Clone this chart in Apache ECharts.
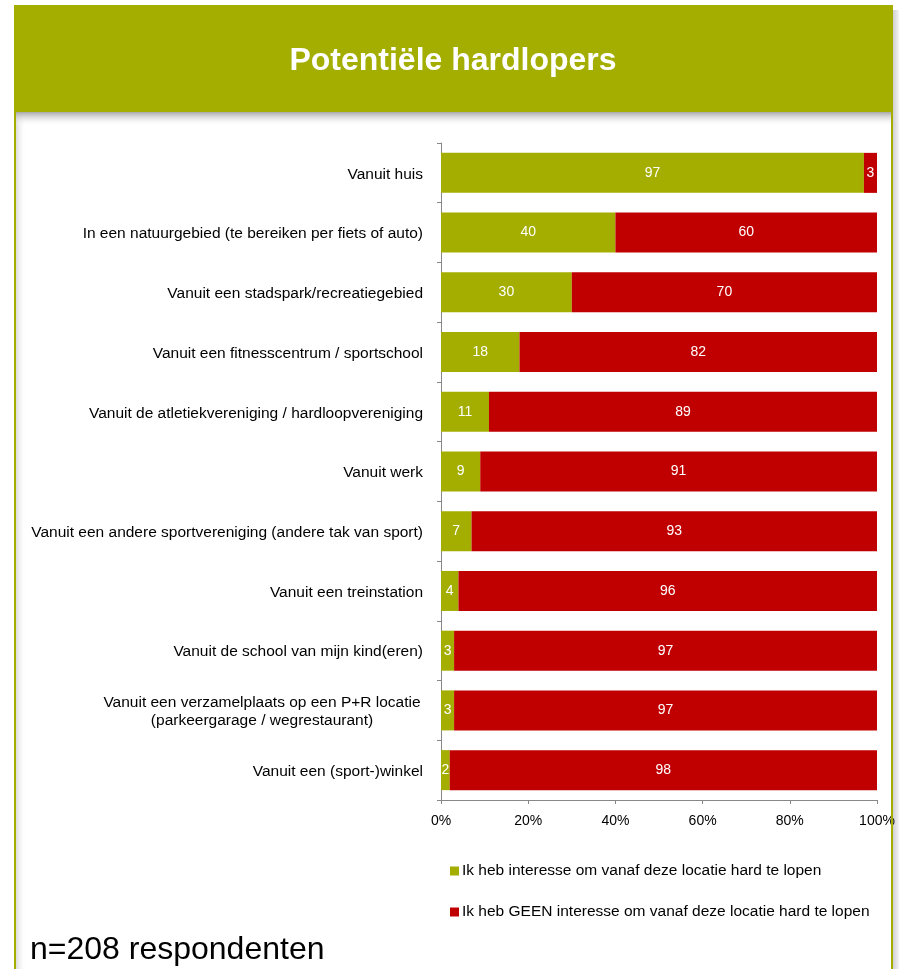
<!DOCTYPE html>
<html>
<head>
<meta charset="utf-8">
<script src="https://cdn.jsdelivr.net/npm/echarts@6/dist/echarts.min.js"></script>
<style>
  html, body { margin: 0; padding: 0; background: #ffffff; }
  #chart { width: 899px; height: 969px; }
</style>
</head>
<body>
<div id="chart"></div>
<script>
// Locations asked about, top to bottom
const categories = [
  'Vanuit huis',
  'In een natuurgebied (te bereiken per fiets of auto)',
  'Vanuit een stadspark/recreatiegebied',
  'Vanuit een fitnesscentrum / sportschool',
  'Vanuit de atletiekvereniging / hardloopvereniging',
  'Vanuit werk',
  'Vanuit een andere sportvereniging (andere tak van sport)',
  'Vanuit een treinstation',
  'Vanuit de school van mijn kind(eren)',
  'Vanuit een verzamelplaats op een P+R locatie\n(parkeergarage / wegrestaurant)',
  'Vanuit een (sport-)winkel'
];

// Share of respondents (%) per answer
const interested = [97, 40, 30, 18, 11, 9, 7, 4, 3, 3, 2];
const notInterested = [3, 60, 70, 82, 89, 91, 93, 96, 97, 97, 98];

const seriesNames = [
  'Ik heb interesse om vanaf deze locatie hard te lopen',
  'Ik heb GEEN interesse om vanaf deze locatie hard te lopen'
];

const xTicks = [0, 20, 40, 60, 80, 100];

const GREEN = '#a3ae00';
const RED = '#c00000';
const FONT = '"Liberation Sans", Arial, sans-serif';

const chart = echarts.init(document.getElementById('chart'), null, { renderer: 'canvas' });

const labelStyle = {
  show: true,
  position: 'inside',
  color: '#ffffff',
  fontFamily: FONT,
  fontSize: 14
};

chart.setOption({
  backgroundColor: '#ffffff',
  animation: false,
  graphic: [
    // light shadow to the right of the frame
    {
      type: 'rect', z: 0,
      shape: { x: 893, y: 10, width: 6, height: 959 },
      style: {
        fill: new echarts.graphic.LinearGradient(0, 0, 1, 0, [
          { offset: 0, color: '#d0d0d0' }, { offset: 1, color: '#f4f4f4' }
        ])
      }
    },
    // inner shade along the left border
    {
      type: 'rect', z: 0,
      shape: { x: 16, y: 112, width: 10, height: 857 },
      style: {
        fill: new echarts.graphic.LinearGradient(0, 0, 1, 0, [
          { offset: 0, color: '#dcdcdc' }, { offset: 1, color: 'rgba(255,255,255,0)' }
        ])
      }
    },
    // shadow under the header
    {
      type: 'rect', z: 0,
      shape: { x: 16, y: 112, width: 875, height: 14 },
      style: {
        fill: new echarts.graphic.LinearGradient(0, 0, 0, 1, [
          { offset: 0, color: '#a8a8a8' }, { offset: 1, color: 'rgba(255,255,255,0)' }
        ])
      }
    },
    // header band
    {
      type: 'rect', z: 1,
      shape: { x: 14, y: 5, width: 879, height: 107 },
      style: { fill: GREEN }
    },
    // frame sides
    {
      type: 'rect', z: 1,
      shape: { x: 14, y: 112, width: 2, height: 857 },
      style: { fill: GREEN }
    },
    {
      type: 'rect', z: 1,
      shape: { x: 891, y: 112, width: 2, height: 857 },
      style: { fill: GREEN }
    },
    // title
    {
      type: 'text', z: 2,
      x: 453, y: 61,
      style: {
        text: 'Potentiële hardlopers',
        fill: '#ffffff',
        font: 'bold 32px ' + FONT,
        align: 'center',
        verticalAlign: 'middle'
      }
    },
    // sample size note
    {
      type: 'text', z: 2,
      x: 30, y: 950,
      style: {
        text: 'n=208 respondenten',
        fill: '#000000',
        font: '32px ' + FONT,
        align: 'left',
        verticalAlign: 'middle'
      }
    }
  ],
  legend: {
    orient: 'vertical',
    left: 445,
    top: 858,
    itemGap: 25,
    itemWidth: 9,
    itemHeight: 9,
    icon: 'rect',
    selectedMode: false,
    textStyle: { fontFamily: FONT, fontSize: 15.5, color: '#000000', padding: [0, 0, 0, -2] },
    data: seriesNames
  },
  grid: {
    left: 441,
    right: 22,
    top: 143,
    bottom: 169,
    containLabel: false
  },
  xAxis: {
    type: 'value',
    min: xTicks[0],
    max: xTicks[xTicks.length - 1],
    interval: xTicks[1] - xTicks[0],
    axisLine: { show: true, lineStyle: { color: '#888888', width: 1 } },
    axisTick: { show: true, length: 4, lineStyle: { color: '#888888' } },
    splitLine: { show: false },
    axisLabel: {
      formatter: '{value}%',
      color: '#000000',
      fontFamily: FONT,
      fontSize: 14,
      margin: 14
    }
  },
  yAxis: {
    type: 'category',
    inverse: true,
    data: categories,
    axisLine: { show: true, lineStyle: { color: '#888888', width: 1 } },
    axisTick: { show: true, length: 4, lineStyle: { color: '#888888' } },
    axisLabel: {
      color: '#000000',
      fontFamily: FONT,
      fontSize: 15.5,
      margin: 18,
      lineHeight: 18,
      padding: [3, 0, 0, 0],
      formatter: function (v) {
        if (v.indexOf('\n') >= 0) {
          return v.split('\n').map(function (s) { return '{c|' + s + '}'; }).join('\n');
        }
        return v;
      },
      rich: {
        c: { width: 322, align: 'center', fontFamily: FONT, fontSize: 15.5, color: '#000000', lineHeight: 18 }
      }
    }
  },
  series: [
    {
      name: seriesNames[0],
      type: 'bar',
      stack: 'total',
      barWidth: '67%',
      data: interested,
      itemStyle: { color: GREEN },
      label: labelStyle
    },
    {
      name: seriesNames[1],
      type: 'bar',
      stack: 'total',
      barWidth: '67%',
      data: notInterested,
      itemStyle: { color: RED },
      label: labelStyle
    }
  ]
});
</script>
</body>
</html>
